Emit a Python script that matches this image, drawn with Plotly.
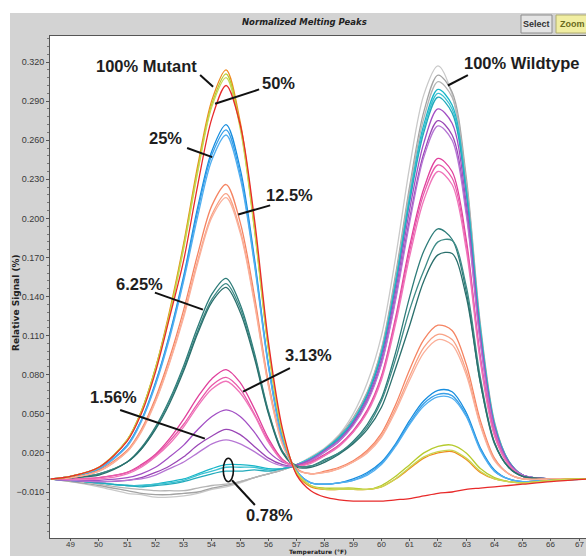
import plotly.graph_objects as go

# ---------------- data ----------------
temps = [48.3, 49, 50, 51, 51.5, 52, 52.5, 53, 53.5, 54, 54.5, 55, 55.5, 56, 56.5, 57,
         57.5, 58, 58.5, 59, 59.5, 60, 60.5, 61, 61.5, 62, 62.5, 63, 63.5, 64, 64.5, 65, 66, 67.3]

y_tick_values = [-0.010, 0.020, 0.050, 0.080, 0.110, 0.140, 0.170, 0.200, 0.230, 0.260, 0.290, 0.320]
x_tick_values = [49, 50, 51, 52, 53, 54, 55, 56, 57, 58, 59, 60, 61, 62, 63, 64, 65, 66, 67]

wildtype_a = [0, -0.002, -0.006, -0.011, -0.012, -0.014, -0.014, -0.013, -0.011, -0.008, -0.006, -0.003,
              0.001, 0.004, 0.007, 0.011, 0.017, 0.024, 0.034, 0.050, 0.074, 0.110, 0.170, 0.240, 0.295,
              0.317, 0.295, 0.222, 0.115, 0.042, 0.013, 0.003, 0, 0]
wildtype_b = [0, -0.002, -0.005, -0.009, -0.011, -0.012, -0.012, -0.011, -0.010, -0.007, -0.005, -0.002,
              0.001, 0.004, 0.007, 0.011, 0.016, 0.023, 0.033, 0.047, 0.067, 0.100, 0.157, 0.225, 0.282,
              0.310, 0.297, 0.232, 0.119, 0.044, 0.014, 0.003, 0, 0]
wildtype_c = [0, -0.001, -0.004, -0.007, -0.008, -0.009, -0.009, -0.009, -0.007, -0.005, -0.004, -0.002,
              0.001, 0.004, 0.007, 0.011, 0.016, 0.023, 0.032, 0.046, 0.066, 0.099, 0.154, 0.222, 0.277,
              0.305, 0.293, 0.228, 0.117, 0.043, 0.014, 0.003, 0, 0]

mut_078_a = [0, -0.001, -0.003, -0.005, -0.005, -0.004, -0.002, 0.000, 0.004, 0.008, 0.011, 0.011,
             0.010, 0.008, 0.008, 0.011, 0.016, 0.023, 0.032, 0.045, 0.065, 0.097, 0.151, 0.217, 0.272,
             0.299, 0.287, 0.223, 0.115, 0.042, 0.014, 0.003, 0, 0]
mut_078_b = [0, -0.001, -0.003, -0.005, -0.005, -0.004, -0.003, -0.001, 0.003, 0.006, 0.009, 0.009,
             0.009, 0.007, 0.008, 0.011, 0.016, 0.022, 0.031, 0.045, 0.064, 0.096, 0.150, 0.215, 0.269,
             0.296, 0.284, 0.221, 0.114, 0.042, 0.013, 0.003, 0, 0]
mut_078_c = [0, -0.001, -0.003, -0.005, -0.006, -0.005, -0.004, -0.002, 0.001, 0.004, 0.006, 0.006,
             0.007, 0.006, 0.008, 0.010, 0.015, 0.022, 0.031, 0.044, 0.064, 0.095, 0.148, 0.213, 0.266,
             0.293, 0.281, 0.219, 0.112, 0.041, 0.013, 0.003, 0, 0]

mut_156_a = [0, -0.001, -0.001, 0.001, 0.004, 0.009, 0.017, 0.026, 0.038, 0.048, 0.053, 0.048,
             0.036, 0.021, 0.013, 0.011, 0.015, 0.022, 0.030, 0.043, 0.062, 0.092, 0.144, 0.207, 0.258,
             0.284, 0.273, 0.212, 0.109, 0.040, 0.013, 0.003, 0, 0]
mut_156_b = [0, -0.001, -0.002, -0.001, 0.001, 0.005, 0.010, 0.017, 0.026, 0.033, 0.038, 0.034,
             0.025, 0.016, 0.011, 0.010, 0.014, 0.021, 0.029, 0.042, 0.060, 0.089, 0.139, 0.200, 0.250,
             0.275, 0.264, 0.206, 0.106, 0.039, 0.013, 0.003, 0, 0]
mut_156_c = [0, -0.001, -0.002, -0.001, 0.000, 0.003, 0.008, 0.013, 0.020, 0.027, 0.030, 0.027,
             0.021, 0.014, 0.010, 0.010, 0.014, 0.021, 0.029, 0.041, 0.059, 0.088, 0.137, 0.197, 0.247,
             0.271, 0.260, 0.203, 0.104, 0.038, 0.012, 0.003, 0, 0]

mut_313_a = [0, 0.000, 0.001, 0.005, 0.011, 0.019, 0.031, 0.046, 0.063, 0.077, 0.084, 0.074,
             0.054, 0.031, 0.015, 0.010, 0.013, 0.019, 0.026, 0.037, 0.053, 0.079, 0.124, 0.179, 0.223,
             0.246, 0.236, 0.184, 0.094, 0.035, 0.011, 0.002, 0, 0]
mut_313_b = [0, 0.000, 0.001, 0.005, 0.010, 0.018, 0.029, 0.042, 0.058, 0.072, 0.078, 0.069,
             0.050, 0.029, 0.014, 0.010, 0.013, 0.018, 0.026, 0.036, 0.052, 0.078, 0.122, 0.175, 0.219,
             0.241, 0.231, 0.180, 0.092, 0.034, 0.011, 0.002, 0, 0]
mut_313_c = [0, 0.000, 0.000, 0.004, 0.009, 0.017, 0.027, 0.040, 0.056, 0.069, 0.075, 0.066,
             0.049, 0.028, 0.014, 0.010, 0.012, 0.018, 0.025, 0.036, 0.051, 0.076, 0.119, 0.171, 0.214,
             0.236, 0.226, 0.176, 0.090, 0.033, 0.011, 0.002, 0, 0]

mut_625_a = [0, 0.001, 0.004, 0.013, 0.024, 0.040, 0.061, 0.087, 0.117, 0.142, 0.154, 0.134,
             0.097, 0.052, 0.021, 0.010, 0.010, 0.015, 0.020, 0.029, 0.042, 0.062, 0.097, 0.140, 0.175,
             0.192, 0.184, 0.144, 0.074, 0.027, 0.009, 0.002, 0, 0]
mut_625_b = [0, 0.001, 0.004, 0.013, 0.023, 0.039, 0.060, 0.085, 0.114, 0.138, 0.150, 0.131,
             0.095, 0.051, 0.021, 0.010, 0.010, 0.014, 0.020, 0.028, 0.040, 0.060, 0.092, 0.130, 0.160,
             0.182, 0.183, 0.148, 0.078, 0.028, 0.009, 0.002, 0, 0]
mut_625_c = [0, 0.001, 0.003, 0.013, 0.023, 0.038, 0.058, 0.083, 0.112, 0.136, 0.147, 0.128,
             0.093, 0.050, 0.020, 0.009, 0.009, 0.013, 0.019, 0.027, 0.038, 0.055, 0.085, 0.118, 0.152,
             0.172, 0.173, 0.140, 0.074, 0.028, 0.009, 0.002, 0, 0]

mut_125_a = [0, 0.001, 0.007, 0.022, 0.038, 0.062, 0.093, 0.130, 0.173, 0.210, 0.226, 0.197,
             0.141, 0.074, 0.028, 0.008, 0.004, 0.006, 0.009, 0.014, 0.022, 0.035, 0.057, 0.084, 0.107,
             0.118, 0.114, 0.088, 0.045, 0.016, 0.004, 0.000, 0, 0]
mut_125_b = [0, 0.001, 0.006, 0.021, 0.037, 0.060, 0.090, 0.126, 0.168, 0.203, 0.219, 0.191,
             0.137, 0.072, 0.027, 0.007, 0.004, 0.005, 0.008, 0.013, 0.021, 0.033, 0.054, 0.079, 0.101,
             0.111, 0.107, 0.083, 0.042, 0.015, 0.004, 0.000, 0, 0]
mut_125_c = [0, 0.001, 0.006, 0.021, 0.036, 0.059, 0.089, 0.124, 0.166, 0.201, 0.216, 0.189,
             0.135, 0.071, 0.026, 0.007, 0.004, 0.005, 0.008, 0.013, 0.020, 0.032, 0.052, 0.076, 0.097,
             0.107, 0.103, 0.080, 0.041, 0.014, 0.004, 0.000, 0, 0]

mut_25_a = [0, 0.002, 0.008, 0.026, 0.045, 0.074, 0.111, 0.156, 0.209, 0.252, 0.272, 0.238,
            0.170, 0.088, 0.032, 0.006, -0.003, -0.004, -0.003, 0.000, 0.005, 0.013, 0.027, 0.045, 0.060,
            0.068, 0.067, 0.051, 0.024, 0.007, 0.000, -0.002, -0.001, 0]
mut_25_b = [0, 0.002, 0.008, 0.026, 0.045, 0.073, 0.110, 0.154, 0.206, 0.249, 0.268, 0.234,
            0.167, 0.087, 0.031, 0.006, -0.003, -0.004, -0.003, -0.001, 0.004, 0.012, 0.026, 0.043, 0.058,
            0.065, 0.064, 0.049, 0.023, 0.006, 0.000, -0.002, -0.001, 0]
mut_25_c = [0, 0.002, 0.008, 0.025, 0.044, 0.072, 0.108, 0.152, 0.202, 0.245, 0.264, 0.231,
            0.165, 0.086, 0.030, 0.006, -0.003, -0.004, -0.003, -0.001, 0.003, 0.011, 0.025, 0.042, 0.056,
            0.063, 0.062, 0.048, 0.022, 0.006, 0.000, -0.002, -0.001, 0]

mut_50 = [0, 0.002, 0.009, 0.029, 0.050, 0.082, 0.124, 0.168, 0.226, 0.277, 0.302, 0.272,
          0.200, 0.105, 0.038, 0.003, -0.009, -0.014, -0.016, -0.017, -0.017, -0.017, -0.016, -0.015,
          -0.013, -0.011, -0.010, -0.008, -0.007, -0.006, -0.005, -0.004, -0.002, 0]

mut_100_a = [0, 0.002, 0.009, 0.030, 0.052, 0.085, 0.127, 0.179, 0.238, 0.288, 0.311, 0.271,
             0.193, 0.100, 0.035, 0.005, -0.005, -0.007, -0.007, -0.007, -0.008, -0.005, 0.002, 0.011,
             0.020, 0.025, 0.026, 0.020, 0.008, 0.001, -0.002, -0.003, -0.001, 0]
mut_100_b = [0, 0.002, 0.009, 0.030, 0.051, 0.084, 0.126, 0.177, 0.236, 0.286, 0.308, 0.269,
             0.192, 0.099, 0.035, 0.005, -0.005, -0.008, -0.008, -0.008, -0.008, -0.006, 0.000, 0.009,
             0.017, 0.021, 0.022, 0.016, 0.006, 0.000, -0.002, -0.003, -0.001, 0]
mut_100_c = [0, 0.002, 0.009, 0.030, 0.052, 0.085, 0.129, 0.181, 0.241, 0.291, 0.314, 0.274,
             0.195, 0.101, 0.035, 0.004, -0.006, -0.008, -0.008, -0.008, -0.008, -0.006, 0.000, 0.008,
             0.016, 0.020, 0.021, 0.015, 0.005, 0.000, -0.002, -0.003, -0.001, 0]

series = [
    ("100% Wildtype", wildtype_a, "#c9c9c9"),
    ("100% Wildtype", wildtype_b, "#a3a3a3"),
    ("100% Wildtype", wildtype_c, "#b5b5b5"),
    ("0.78%", mut_078_a, "#19b6c8"),
    ("0.78%", mut_078_b, "#3cc2d2"),
    ("0.78%", mut_078_c, "#22aabb"),
    ("1.56%", mut_156_a, "#a24fc4"),
    ("1.56%", mut_156_b, "#9a46b6"),
    ("1.56%", mut_156_c, "#b676d4"),
    ("3.13%", mut_313_a, "#e0409c"),
    ("3.13%", mut_313_b, "#e95aaa"),
    ("3.13%", mut_313_c, "#f075ba"),
    ("6.25%", mut_625_a, "#2d7c79"),
    ("6.25%", mut_625_b, "#3e8b87"),
    ("6.25%", mut_625_c, "#2a6f6c"),
    ("12.5%", mut_125_a, "#f58462"),
    ("12.5%", mut_125_b, "#f8a184"),
    ("12.5%", mut_125_c, "#fbb09a"),
    ("25%", mut_25_a, "#168ddf"),
    ("25%", mut_25_b, "#389fe8"),
    ("25%", mut_25_c, "#52aff0"),
    ("100% Mutant", mut_100_c, "#f08a1e"),
    ("100% Mutant", mut_100_a, "#b6cb2e"),
    ("100% Mutant", mut_100_b, "#c9d852"),
    ("50%", mut_50, "#e82a2a"),
]

# label text and anchor positions (data units)
label_texts = ["100% Mutant", "50%", "25%", "12.5%", "6.25%", "3.13%", "1.56%", "0.78%", "100% Wildtype"]
label_x = [51.70, 56.34, 52.37, 56.76, 51.45, 57.40, 50.50, 56.05, 64.95]
label_y = [0.317, 0.304, 0.262, 0.218, 0.150, 0.095, 0.063, -0.028, 0.319]
leader_x0 = [53.58, 55.67, 53.12, 56.06, 51.98, 56.76, 50.75, 54.71, 63.06]
leader_y0 = [0.310, 0.299, 0.254, 0.210, 0.143, 0.085, 0.053, -0.001, 0.310]
leader_x1 = [54.04, 54.11, 54.01, 54.93, 53.68, 55.10, 53.75, 55.52, 62.35]
leader_y1 = [0.301, 0.288, 0.247, 0.203, 0.130, 0.067, 0.031, -0.020, 0.302]

x_range = [48.267, 67.24]
y_range = [-0.0453, 0.340]

# ---------------- figure ----------------
W, H = 586, 556
ML, MR, MT, MB = 50, 0, 36, 18
PW, PH = W - ML - MR, H - MT - MB
TICK_FONT = "Liberation Sans Narrow, Arial Narrow, Liberation Sans, Arial, sans-serif"


def px(xp):
    return (xp - ML) / PW


def py(yp):
    return 1 - (yp - MT) / PH


fig = go.Figure()
for name, ys, color in series:
    fig.add_trace(go.Scatter(
        x=temps, y=ys, mode="lines", name=name, showlegend=False, hoverinfo="skip",
        line=dict(color=color, width=1.3, shape="spline", smoothing=0.9),
    ))

shapes = []
# white strips outside the grey panel
shapes.append(dict(type="rect", xref="paper", yref="paper", x0=-0.2, x1=1.1, y0=py(13), y1=1.2,
                   fillcolor="white", line=dict(width=0), layer="below"))
shapes.append(dict(type="rect", xref="paper", yref="paper", x0=-0.2, x1=px(10), y0=-0.2, y1=1.2,
                   fillcolor="white", line=dict(width=0), layer="below"))
# buttons
shapes.append(dict(type="rect", xref="paper", yref="paper", x0=px(521), x1=px(552), y0=py(33), y1=py(15),
                   fillcolor="#e4e4e4", line=dict(color="#8c8c8c", width=1)))
shapes.append(dict(type="rect", xref="paper", yref="paper", x0=px(556), x1=px(592), y0=py(33), y1=py(15),
                   fillcolor="#f1eea2", line=dict(color="#b0ad70", width=1)))
# leader lines
for i in range(len(label_texts)):
    shapes.append(dict(type="line", xref="x", yref="y", x0=leader_x0[i], y0=leader_y0[i],
                       x1=leader_x1[i], y1=leader_y1[i], line=dict(color="#111111", width=2)))
# ellipse marking 0.78%
shapes.append(dict(type="circle", xref="x", yref="y", x0=54.40, x1=54.76, y0=-0.0021, y1=0.0159,
                   line=dict(color="#111111", width=1.6)))

annotations = []
for i, t in enumerate(label_texts):
    annotations.append(dict(x=label_x[i], y=label_y[i], xref="x", yref="y", text="<b>%s</b>" % t,
                            xanchor="center", yanchor="middle", showarrow=False,
                            font=dict(size=16.5, color="#1e1e1e", family="Liberation Sans, Arial, sans-serif")))
# x tick labels, placed on the x axis scale
for v in x_tick_values:
    annotations.append(dict(x=v, y=py(544.5), xref="x", yref="paper", text=str(v),
                            xanchor="center", yanchor="middle", showarrow=False, borderpad=0,
                            font=dict(size=8, color="#3a3a3a", family=TICK_FONT)))
annotations.append(dict(x=px(304), y=py(21.5), xref="paper", yref="paper", xanchor="center", yanchor="middle",
                        text="<b><i>Normalized Melting Peaks</i></b>", showarrow=False,
                        font=dict(size=8.5, color="#222222", family="DejaVu Sans, Verdana, sans-serif")))
annotations.append(dict(x=px(536.5), y=py(24), xref="paper", yref="paper", text="<b>Select</b>",
                        xanchor="center", yanchor="middle", showarrow=False,
                        font=dict(size=9, color="#333333", family=TICK_FONT)))
annotations.append(dict(x=px(558), y=py(24), xref="paper", yref="paper", text="<b>Zoom</b>",
                        xanchor="left", yanchor="middle", showarrow=False,
                        font=dict(size=9, color="#6a6a20", family=TICK_FONT)))
annotations.append(dict(x=px(16), y=py(303), xref="paper", yref="paper", text="<b>Relative Signal (%)</b>",
                        xanchor="center", yanchor="middle", textangle=-90, showarrow=False,
                        font=dict(size=9, color="#222222", family="DejaVu Sans, Verdana, sans-serif")))
annotations.append(dict(x=px(318), y=py(556.5), xref="paper", yref="paper", text="<b>Temperature (°F)</b>",
                        xanchor="center", yanchor="bottom", showarrow=False, borderpad=0,
                        font=dict(size=6, color="#222222", family="DejaVu Sans, Verdana, sans-serif")))

fig.update_layout(
    width=W, height=H, margin=dict(l=ML, r=MR, t=MT, b=MB, pad=0, autoexpand=False),
    paper_bgcolor="#d3d3d3", plot_bgcolor="white",
    font=dict(family="Liberation Sans, Arial, sans-serif"),
    shapes=shapes, annotations=annotations, showlegend=False,
    xaxis=dict(range=x_range, tickmode="array", tickvals=x_tick_values, ticks="outside", ticklen=2,
               tickcolor="#555555", showline=True, linecolor="#555555", linewidth=1, mirror=True,
               showgrid=False, zeroline=False, automargin=False, showticklabels=False),
    yaxis=dict(range=y_range, tickmode="array", tickvals=y_tick_values, tickformat=".3f",
               ticks="outside", ticklen=3, tickcolor="#555555", showline=True, linecolor="#555555",
               linewidth=1, showgrid=False, zeroline=False, automargin=False,
               tickfont=dict(size=9, color="#3a3a3a", family=TICK_FONT),
               minor=dict(tickmode="linear", tick0=-0.01, dtick=0.006, ticks="outside", ticklen=2,
                          tickcolor="#777777")),
)

fig.write_html("out.html", config={"displayModeBar": False},
               post_script="document.body.style.margin='0px';document.body.style.padding='0px';")
